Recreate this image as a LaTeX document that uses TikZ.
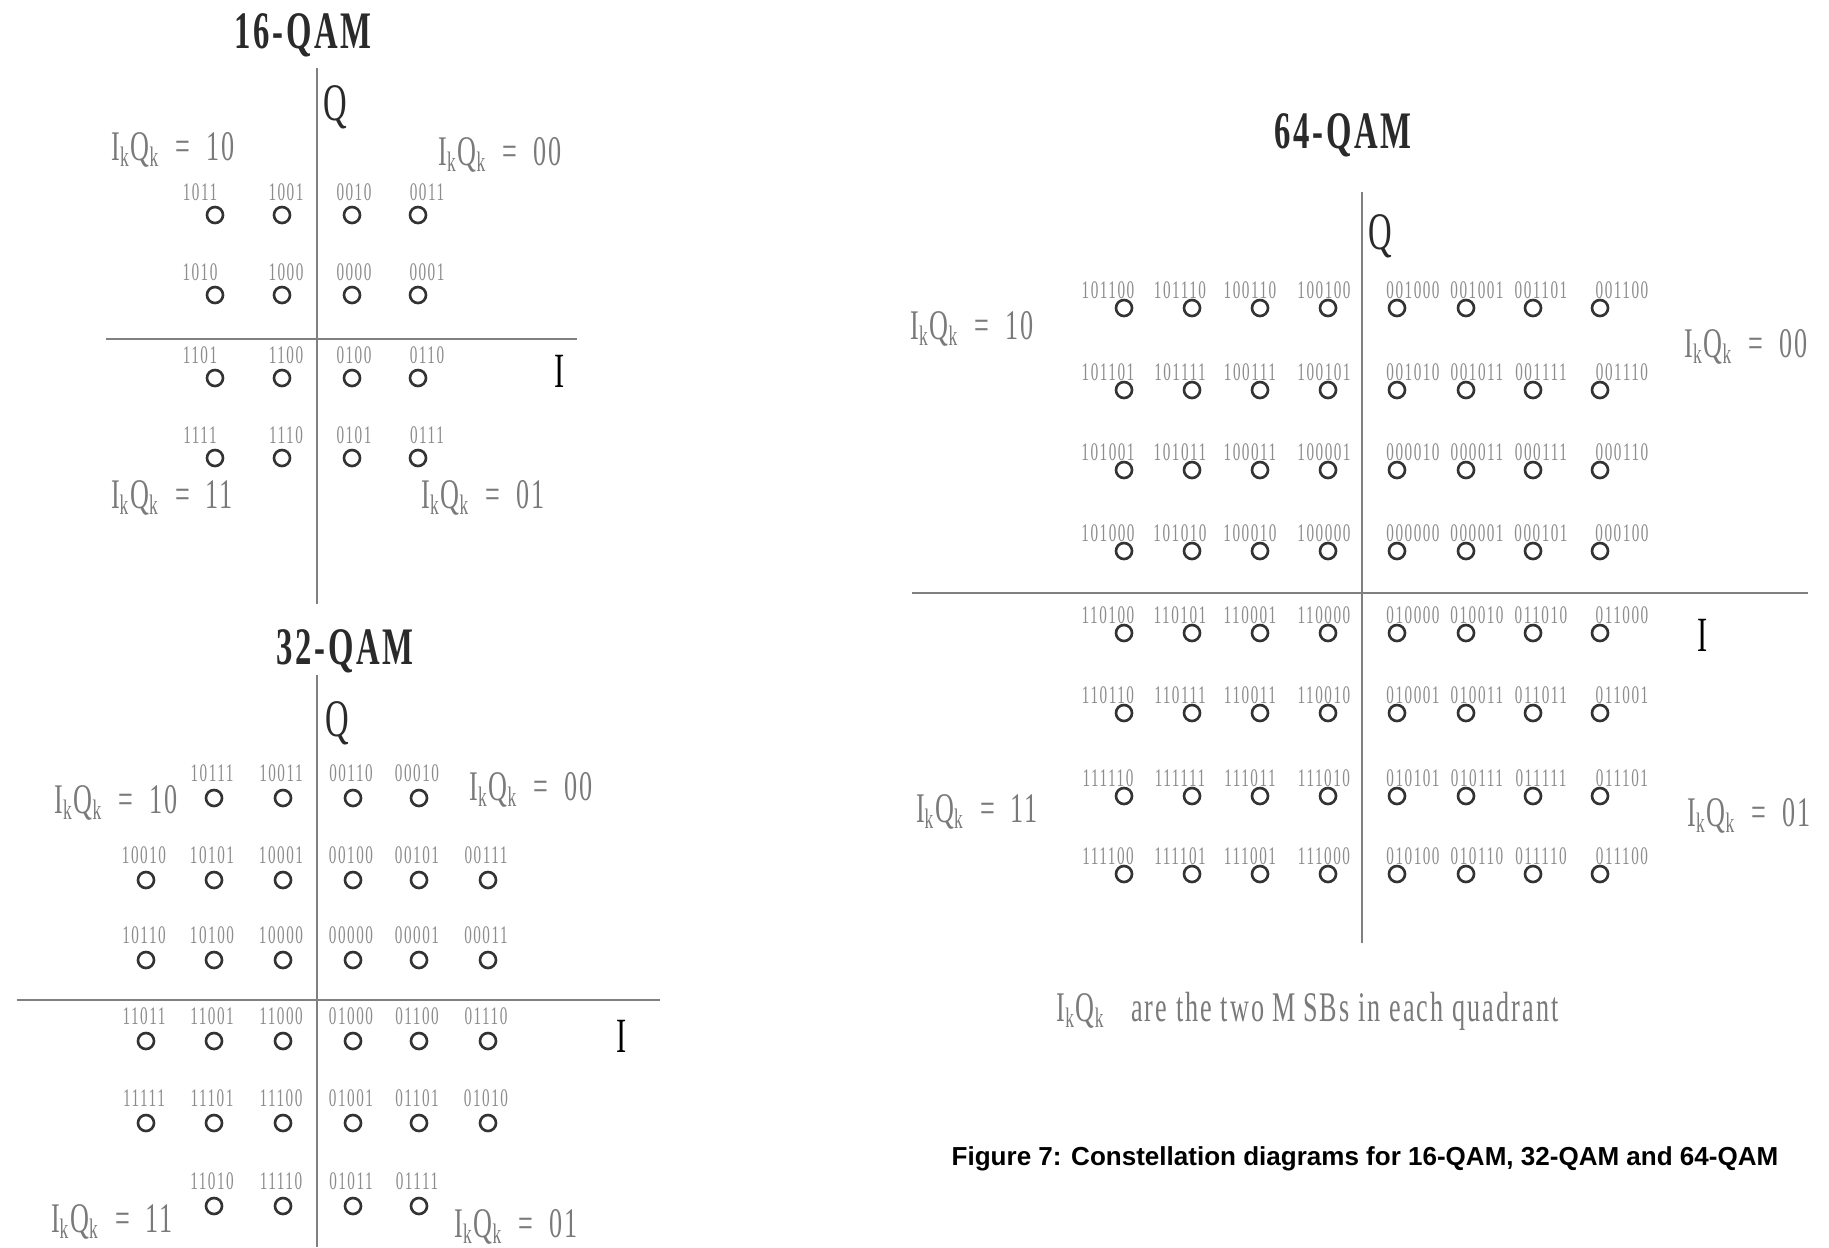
\documentclass[tikz,border=0pt]{standalone}
\usepackage{fontspec}
\setmainfont{Liberation Serif}
\newfontfamily\narrowserif[FakeStretch=0.62,LetterSpace=5]{Liberation Serif}
\newfontfamily\bitfont[FakeStretch=0.6,LetterSpace=6]{Liberation Serif}
\newfontfamily\captionsans{Liberation Sans}

\definecolor{axisgray}{HTML}{808080}
\definecolor{symgray}{HTML}{333333}
\definecolor{bitgray}{HTML}{8C8C8C}
\definecolor{msbgray}{HTML}{7A7A7A}
\definecolor{inkgray}{HTML}{2A2A2A}

\begin{document}
\begin{tikzpicture}[x=0.01cm, y=-0.01cm,
  axisline/.style={draw=axisgray, line width=0.8pt},
  sym/.style={circle, draw=symgray, line width=0.75pt, minimum size=0.16cm, inner sep=0pt},
  bit/.style={font=\bitfont\fontsize{7.2}{7.2}\selectfont, text=bitgray, inner sep=0pt},
  msb/.style={anchor=base, font=\narrowserif\fontsize{12}{12}\selectfont, text=msbgray, inner sep=0pt},
  qamtitle/.style={anchor=base, font=\narrowserif\bfseries\fontsize{15}{15}\selectfont, text=inkgray, inner sep=0pt},
  axlabel/.style={anchor=base, font=\narrowserif\fontsize{15}{15}\selectfont, text=inkgray, inner sep=0pt}]
  \useasboundingbox (0,0) rectangle (1829,1247);

  % --- 16-QAM ---
  \node[qamtitle] (t16) at (303,48) {16-QAM};
  \coordinate (q16n) at (317,68);  \coordinate (q16s) at (317,604);
  \coordinate (i16w) at (106,339); \coordinate (i16e) at (577,339);
  \draw[axisline] (q16n) -- (q16s);
  \draw[axisline] (i16w) -- (i16e);
  \node[axlabel] (q16) at (335,120) {Q};
  \node[axlabel, text=black, font=\narrowserif\fontsize{14}{14}\selectfont] (i16) at (560,387) {I};
  \node[msb] (m16a) at (173,160) {I\textsubscript{k}Q\textsubscript{k} \,=\, 10};
  \node[msb] (m16b) at (500,165) {I\textsubscript{k}Q\textsubscript{k} \,=\, 00};
  \node[msb] (m16c) at (172,508) {I\textsubscript{k}Q\textsubscript{k} \,=\, 11};
  \node[msb] (m16d) at (483,508) {I\textsubscript{k}Q\textsubscript{k} \,=\, 01};
  \foreach \bits [count=\n from 0] in {1011,1001,0010,0011,1010,1000,0000,0001,
                                      1101,1100,0100,0110,1111,1110,0101,0111} {
    \pgfmathtruncatemacro{\c}{mod(\n,4)}
    \pgfmathtruncatemacro{\r}{div(\n,4)}
    \pgfmathsetmacro{\px}{{215,282,352,418}[\c]}
    \pgfmathsetmacro{\lx}{{200,286,354,427}[\c]}
    \pgfmathsetmacro{\py}{{215,295,378,458}[\r]}
    \node[sym] (s16-\n) at (\px,\py) {};
    \node[bit] (b16-\n) at (\lx,\py-23) {\bits};
  }

  % --- 32-QAM ---
  \node[qamtitle] (t32) at (345,664) {32-QAM};
  \coordinate (q32n) at (317,675); \coordinate (q32s) at (317,1247);
  \coordinate (i32w) at (17,1000); \coordinate (i32e) at (660,1000);
  \draw[axisline] (q32n) -- (q32s);
  \draw[axisline] (i32w) -- (i32e);
  \node[axlabel] (q32) at (337,736) {Q};
  \node[axlabel, text=black, font=\narrowserif\fontsize{14}{14}\selectfont] (i32) at (622,1052) {I};
  \node[msb] (m32a) at (116,813) {I\textsubscript{k}Q\textsubscript{k} \,=\, 10};
  \node[msb] (m32b) at (531,800) {I\textsubscript{k}Q\textsubscript{k} \,=\, 00};
  \node[msb] (m32c) at (112,1232) {I\textsubscript{k}Q\textsubscript{k} \,=\, 11};
  \node[msb] (m32d) at (516,1237) {I\textsubscript{k}Q\textsubscript{k} \,=\, 01};
  \foreach \c/\r/\bits in {1/0/10111, 2/0/10011, 3/0/00110, 4/0/00010,
      0/1/10010, 1/1/10101, 2/1/10001, 3/1/00100, 4/1/00101, 5/1/00111,
      0/2/10110, 1/2/10100, 2/2/10000, 3/2/00000, 4/2/00001, 5/2/00011,
      0/3/11011, 1/3/11001, 2/3/11000, 3/3/01000, 4/3/01100, 5/3/01110,
      0/4/11111, 1/4/11101, 2/4/11100, 3/4/01001, 4/4/01101, 5/4/01010,
      1/5/11010, 2/5/11110, 3/5/01011, 4/5/01111} {
    \pgfmathsetmacro{\px}{{146,214,283,353,419,488}[\c]}
    \pgfmathsetmacro{\py}{{798,880,960,1041,1123,1206}[\r]}
    \node[sym] (s32-\c-\r) at (\px,\py) {};
    \node[bit] (b32-\c-\r) at (\px-2,\py-25) {\bits};
  }

  % --- 64-QAM ---
  \node[qamtitle] (t64) at (1343,148) {64-QAM};
  \coordinate (q64n) at (1362,192); \coordinate (q64s) at (1362,943);
  \coordinate (i64w) at (912,593);  \coordinate (i64e) at (1808,593);
  \draw[axisline] (q64n) -- (q64s);
  \draw[axisline] (i64w) -- (i64e);
  \node[axlabel] (q64) at (1380,249) {Q};
  \node[axlabel, text=black, font=\narrowserif\fontsize{14}{14}\selectfont] (i64) at (1703,651) {I};
  \node[msb] (m64a) at (972,339) {I\textsubscript{k}Q\textsubscript{k} \,=\, 10};
  \node[msb] (m64b) at (1746,357) {I\textsubscript{k}Q\textsubscript{k} \,=\, 00};
  \node[msb] (m64c) at (977,822) {I\textsubscript{k}Q\textsubscript{k} \,=\, 11};
  \node[msb] (m64d) at (1749,826) {I\textsubscript{k}Q\textsubscript{k} \,=\, 01};
  \foreach \bits [count=\n from 0] in {
      101100,101110,100110,100100,001000,001001,001101,001100,
      101101,101111,100111,100101,001010,001011,001111,001110,
      101001,101011,100011,100001,000010,000011,000111,000110,
      101000,101010,100010,100000,000000,000001,000101,000100,
      110100,110101,110001,110000,010000,010010,011010,011000,
      110110,110111,110011,110010,010001,010011,011011,011001,
      111110,111111,111011,111010,010101,010111,011111,011101,
      111100,111101,111001,111000,010100,010110,011110,011100} {
    \pgfmathtruncatemacro{\c}{mod(\n,8)}
    \pgfmathtruncatemacro{\r}{div(\n,8)}
    \pgfmathsetmacro{\px}{{1124,1192,1260,1328,1397,1466,1533,1600}[\c]}
    \pgfmathsetmacro{\lx}{{1108,1180,1250,1324,1413,1477,1541,1622}[\c]}
    \pgfmathsetmacro{\py}{{308,390,470,551,633,713,796,874}[\r]}
    \node[sym] (s64-\n) at (\px,\py) {};
    \node[bit] (b64-\n) at (\lx,\py-18) {\bits};
  }

  % --- notes ---
  \node[msb, anchor=base west, font=\narrowserif\fontsize{12}{12}\selectfont] (msbnote) at (1056,1021)
    {I\textsubscript{k}Q\textsubscript{k} \ \ are the two M\,SBs in each quadrant};
  \node[anchor=base, inner sep=0pt, font=\captionsans\bfseries\fontsize{7.4}{7.4}\selectfont] (caption) at (1365,1165)
    {Figure 7: Constellation diagrams for 16-QAM, 32-QAM and 64-QAM};
\end{tikzpicture}
\end{document}
